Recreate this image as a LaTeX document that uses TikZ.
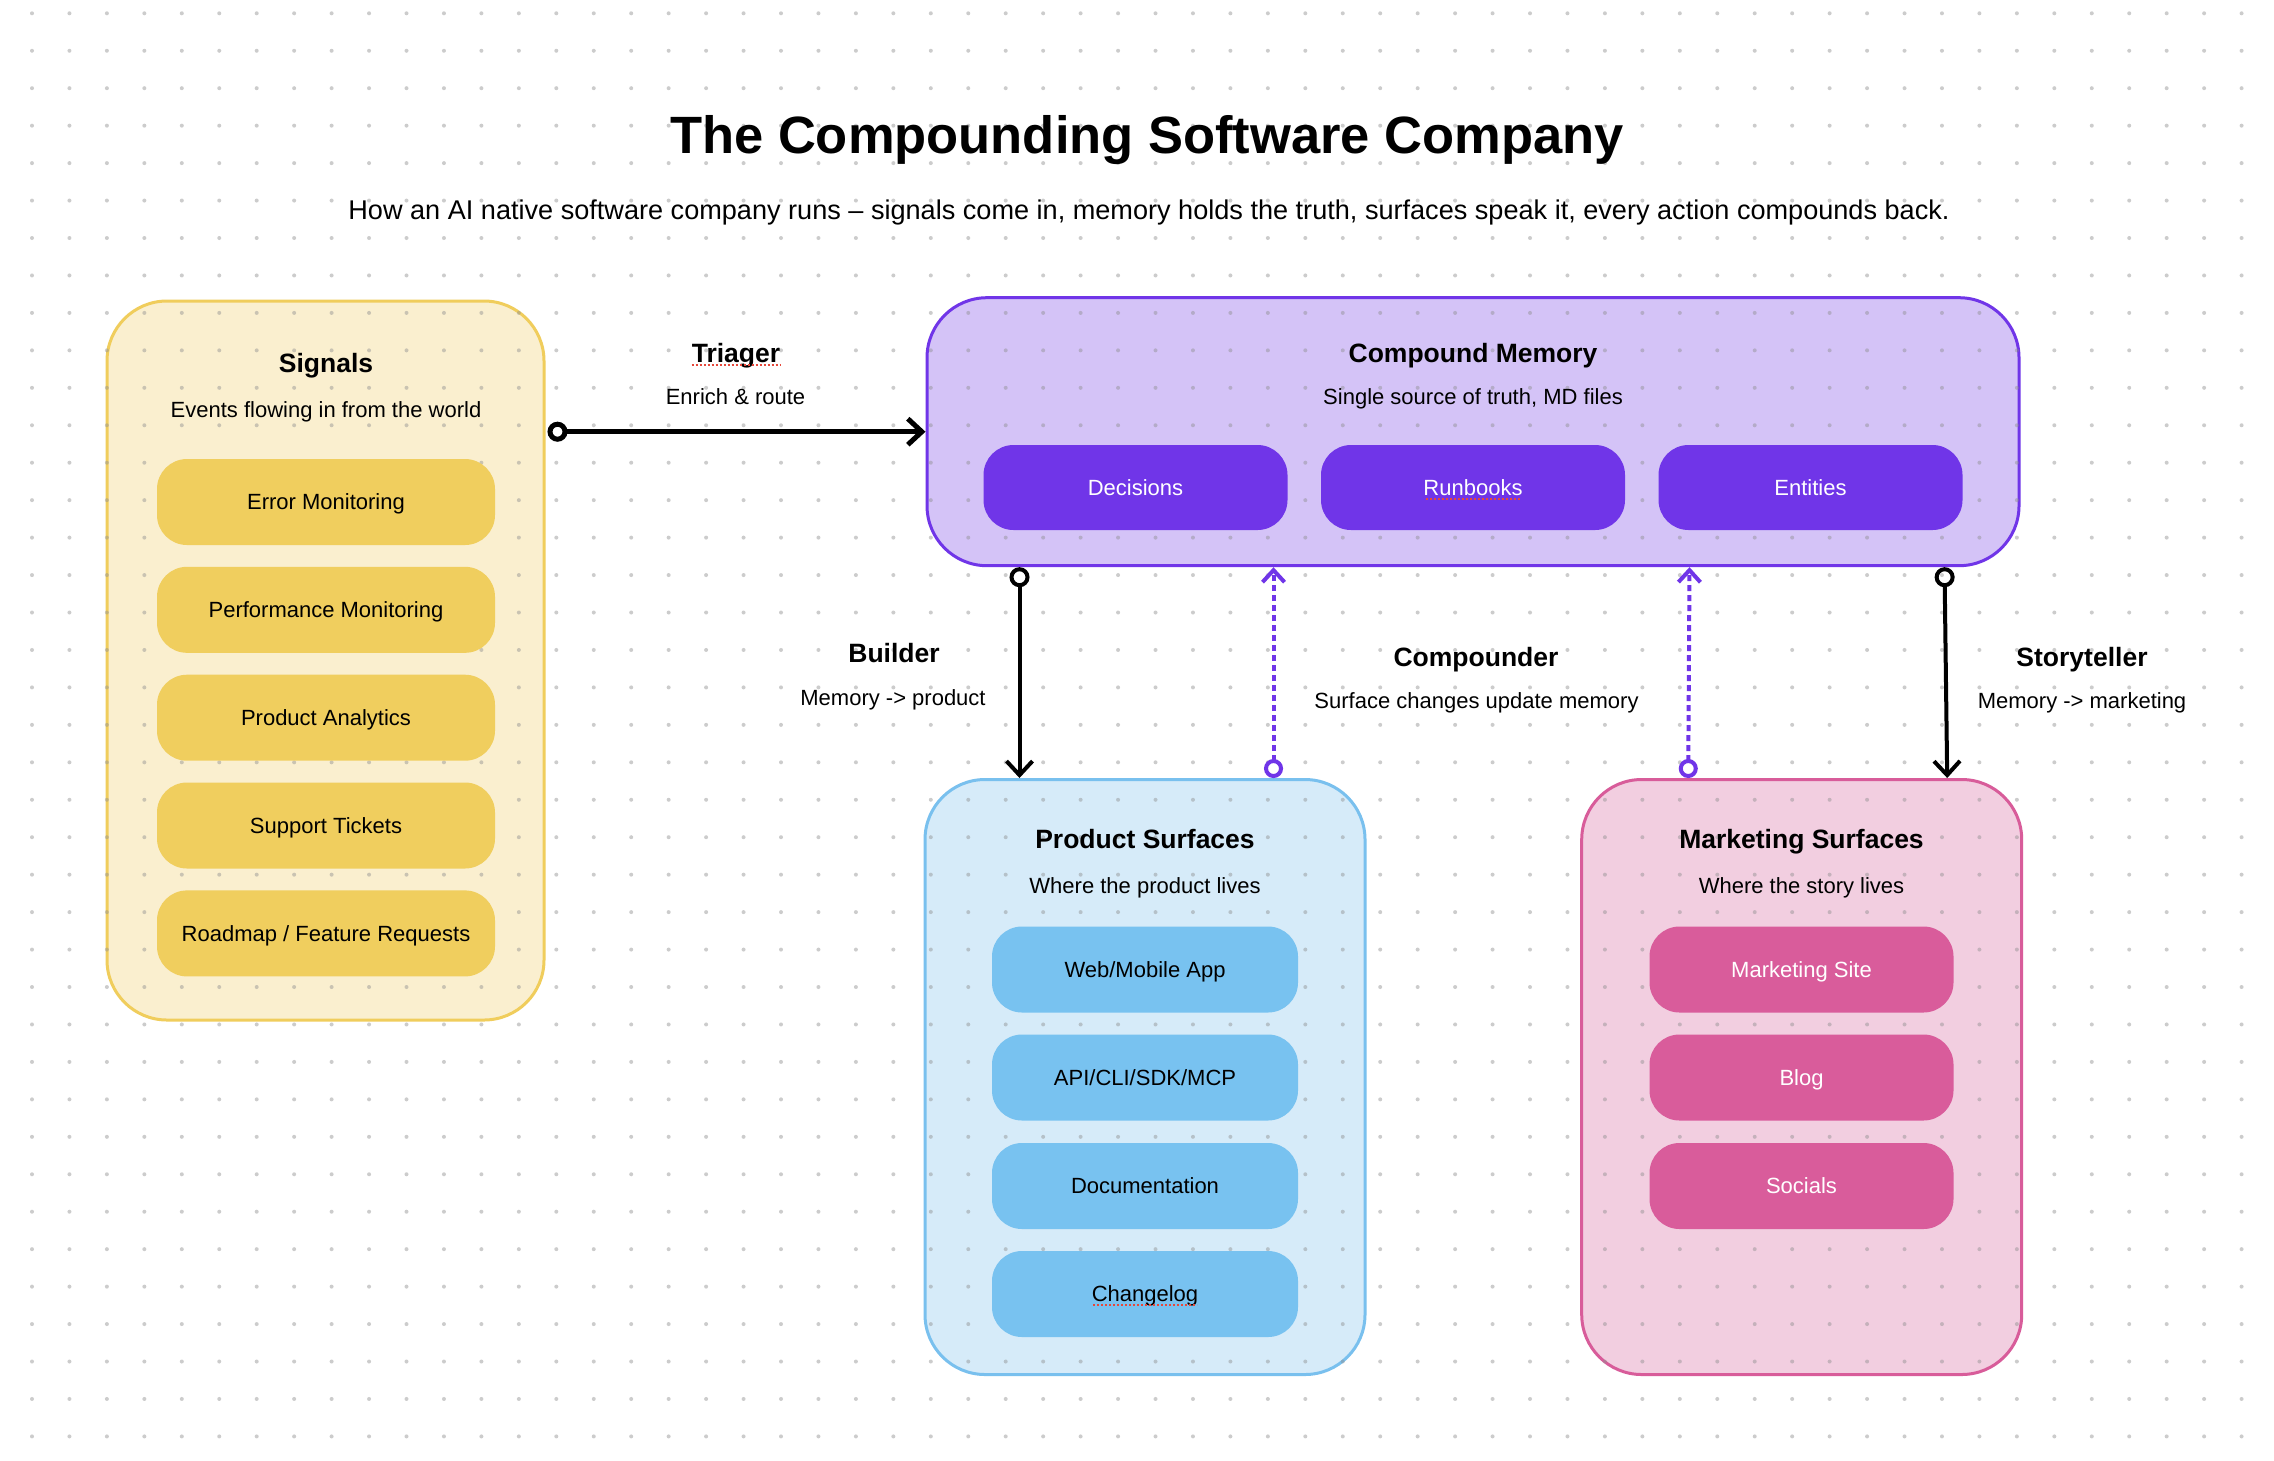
\documentclass[tikz,border=0pt]{standalone}
\usepackage{fontspec}
\setmainfont{Liberation Sans}
\usetikzlibrary{arrows.meta,calc}
\definecolor{sigFill}{HTML}{FAEFCF}
\definecolor{sigLine}{HTML}{F0CD5C}
\definecolor{sigIn}{HTML}{F0CE5E}
\definecolor{memFill}{HTML}{D4C3F7}
\definecolor{memLine}{HTML}{7035E8}
\definecolor{memIn}{HTML}{7035E8}
\definecolor{prodFill}{HTML}{D6EBF9}
\definecolor{prodLine}{HTML}{79C0EE}
\definecolor{prodIn}{HTML}{78C2F0}
\definecolor{markFill}{HTML}{F2CEE0}
\definecolor{markLine}{HTML}{D85C9A}
\definecolor{markIn}{HTML}{D95C9B}
\definecolor{dotc}{HTML}{8F8F8F}
\definecolor{spellc}{HTML}{E5483B}
\tikzset{
  cont/.style={draw, line width=3pt, rounded corners=60pt, inner sep=0pt},
  ibox/.style={rounded corners=30pt, inner sep=0pt, text height=15.8pt, text depth=0pt,
               font=\fontsize{22}{26}\selectfont},
  head/.style={anchor=base, inner sep=0pt, font=\fontsize{26.5}{30}\selectfont\bfseries},
  sub/.style={anchor=base, inner sep=0pt, font=\fontsize{22}{26}\selectfont},
  solidarr/.style={line width=4pt, {Circle[open,length=20pt,width=20pt]}-{Straight Barb[length=14pt,width=26pt]}},
  dotarr/.style={draw=memLine, line width=4pt, dash pattern=on 6pt off 4pt,
                 {Circle[open,length=19pt,width=19pt]}-{Straight Barb[length=12pt,width=22pt]}},
  spell/.style={draw=spellc, line width=2pt, dash pattern=on 2pt off 2pt},
  griddot/.style={fill=dotc, opacity=0.45}
}
\begin{document}
\begin{tikzpicture}[x=1pt,y=-1pt]
\useasboundingbox (0,0) rectangle (2274,1460);
\fill[white] (0,0) rectangle (2274,1460);

% containers
\node[cont, draw=sigLine, fill=sigFill, minimum width=437pt, minimum height=719pt] (sig) at (325.5,660.5) {};
\node[cont, draw=memLine, fill=memFill, minimum width=1092pt, minimum height=268pt] (mem) at (1473,431.7) {};
\node[cont, draw=prodLine, fill=prodFill, minimum width=440pt, minimum height=595pt] (prod) at (1145,1077) {};
\node[cont, draw=markLine, fill=markFill, minimum width=440pt, minimum height=595pt] (mark) at (1801.7,1077) {};

% dot grid
\foreach \i in {0,...,59}{
  \foreach \j in {0,...,38}{
    \fill[griddot] (32+\i*37.45, 13.3+\j*37.45) circle (2pt);
  }
}

% title
\node[anchor=base, inner sep=0pt, font=\fontsize{52.5}{60}\selectfont\bfseries] (title) at (1147,153) {The Compounding Software Company};
\node[anchor=base, inner sep=0pt, font=\fontsize{27.1}{31}\selectfont] (subtitle) at (1149,219) {How an AI native software company runs – signals come in, memory holds the truth, surfaces speak it, every action compounds back.};

% signals
\node[head] (sigT) at (326,372) {Signals};
\node[sub] (sigS) at (326,417) {Events flowing in from the world};
\node[ibox, fill=sigIn, minimum width=338pt, minimum height=86pt] (s1) at (326,502) {Error Monitoring};
\node[ibox, fill=sigIn, minimum width=338pt, minimum height=86pt] (s2) at (326,609.8) {Performance Monitoring};
\node[ibox, fill=sigIn, minimum width=338pt, minimum height=86pt] (s3) at (326,717.7) {Product Analytics};
\node[ibox, fill=sigIn, minimum width=338pt, minimum height=86pt] (s4) at (326,825.5) {Support Tickets};
\node[ibox, fill=sigIn, minimum width=338pt, minimum height=86pt] (s5) at (326,933.4) {Roadmap / Feature Requests};

% memory
\node[head] (memT) at (1473,362) {Compound Memory};
\node[sub] (memS) at (1473,404) {Single source of truth, MD files};
\node[ibox, fill=memIn, text=white, minimum width=304pt, minimum height=85pt] (m1) at (1135.5,487.5) {Decisions};
\node[ibox, fill=memIn, text=white, minimum width=304pt, minimum height=85pt] (m2) at (1473,487.5) {Runbooks};
\node[ibox, fill=memIn, text=white, minimum width=304pt, minimum height=85pt] (m3) at (1810.5,487.5) {Entities};
\draw[spell] ($(m2.center)+(-47,11)$) -- ($(m2.center)+(47,11)$);

% product
\node[head] (prodT) at (1145,848) {Product Surfaces};
\node[sub] (prodS) at (1145,893.6) {Where the product lives};
\node[ibox, fill=prodIn, minimum width=306pt, minimum height=86pt] (p1) at (1145,969.5) {Web/Mobile App};
\node[ibox, fill=prodIn, minimum width=306pt, minimum height=86pt] (p2) at (1145,1077.5) {API/CLI/SDK/MCP};
\node[ibox, fill=prodIn, minimum width=306pt, minimum height=86pt] (p3) at (1145,1186) {Documentation};
\node[ibox, fill=prodIn, minimum width=306pt, minimum height=86pt] (p4) at (1145,1294) {Changelog};
\draw[spell] ($(p4.center)+(-52,11)$) -- ($(p4.center)+(52,11)$);

% marketing
\node[head] (markT) at (1801.5,848) {Marketing Surfaces};
\node[sub] (markS) at (1801.5,893.6) {Where the story lives};
\node[ibox, fill=markIn, text=white, minimum width=304pt, minimum height=86pt] (k1) at (1801.5,969.5) {Marketing Site};
\node[ibox, fill=markIn, text=white, minimum width=304pt, minimum height=86pt] (k2) at (1801.5,1077.5) {Blog};
\node[ibox, fill=markIn, text=white, minimum width=304pt, minimum height=86pt] (k3) at (1801.5,1186) {Socials};

% connector labels
\node[head] (triT) at (736,362) {Triager};
\draw[spell] ([yshift=-3pt]triT.base west) -- ([yshift=-3pt]triT.base east);
\node[sub] (triS) at (735.5,404) {Enrich \& route};
\node[head] (buildT) at (894,662) {Builder};
\node[sub] (buildS) at (893,705) {Memory -> product};
\node[head] (compT) at (1476,666) {Compounder};
\node[sub] (compS) at (1476.5,708) {Surface changes update memory};
\node[head] (storyT) at (2082,666) {Storyteller};
\node[sub] (storyS) at (2082,708) {Memory -> marketing};

% connectors
\draw[solidarr, line width=5pt, shorten <=2pt] (sig.east |- mem.west) -- (mem.west);
\draw[solidarr] ($(mem.south west)+(94,0)$) -- ($(prod.north west)+(96,0)$);
\draw[solidarr] ($(mem.south west)+(1019,0)$) -- ($(mark.north west)+(367,0)$);
\draw[dotarr] ($(prod.north west)+(350,0)$) -- ($(mem.south west)+(348,0)$);
\draw[dotarr] ($(mark.north west)+(108,0)$) -- ($(mem.south west)+(764,0)$);
\end{tikzpicture}
\end{document}
